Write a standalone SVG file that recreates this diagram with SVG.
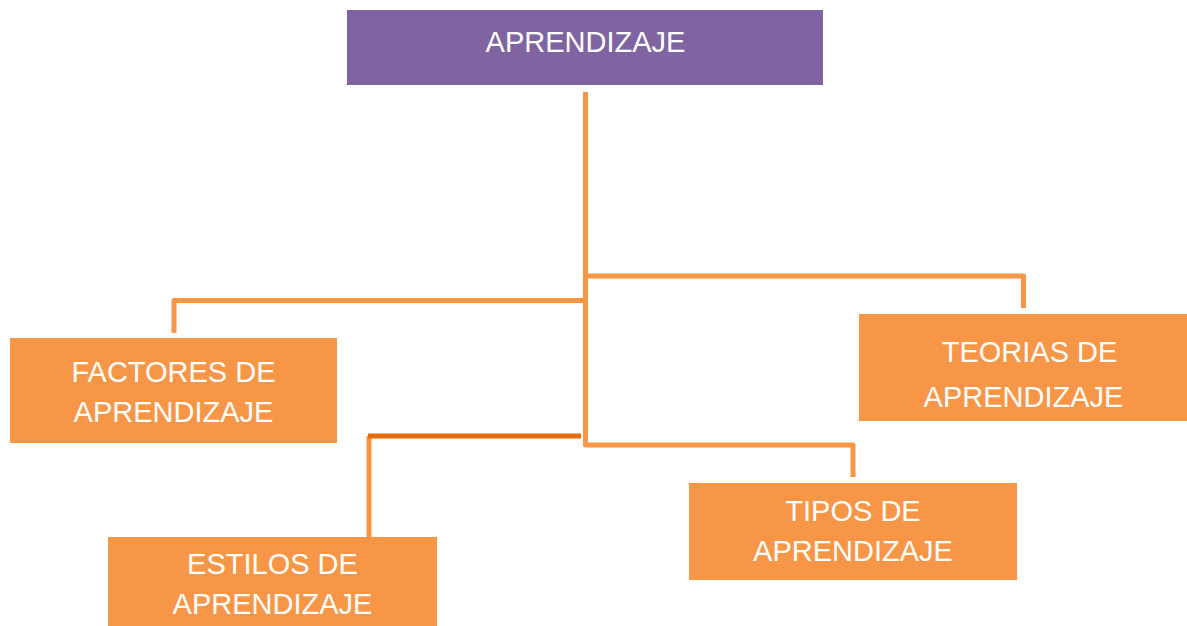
<svg xmlns="http://www.w3.org/2000/svg" width="1187" height="626" viewBox="0 0 1187 626">
  <defs>
    <style>
      .box { fill: #F79646; }
      .top { fill: #8064A2; }
      .lbl { font-family: "Liberation Sans", Arial, sans-serif; font-size: 29px; fill: #FFFFFF; text-anchor: middle; }
      .conn { fill: none; stroke: #F79646; stroke-width: 5; stroke-linejoin: round; }
      .dark { fill: none; stroke: #E46C0A; stroke-width: 5; }
    </style>
    <filter id="sh" x="-50%" y="-10%" width="200%" height="120%">
      <feGaussianBlur stdDeviation="2"/>
    </filter>
  </defs>
  <rect width="1187" height="626" fill="#FFFFFF"/>
  <g id="connectors">
    <polyline class="conn" points="585.5,92 585.5,445 853,445 853,477"/>
    <polyline class="conn" points="585.5,276 1023.5,276 1023.5,308"/>
    <polyline class="conn" points="585.5,300.5 174,300.5 174,333"/>
    <line x1="367" y1="438" x2="367" y2="541" stroke="#999999" stroke-width="4" opacity="0.5" filter="url(#sh)"/>
    <polyline class="conn" points="369,436 369,540"/>
    <line class="dark" x1="368" y1="436" x2="581" y2="436"/>
  </g>
  <g id="node-aprendizaje">
    <rect class="top" x="347" y="10" width="476" height="75"/>
    <text class="lbl" x="585.5" y="52">APRENDIZAJE</text>
  </g>
  <g id="node-factores">
    <rect class="box" x="10" y="338" width="327" height="105"/>
    <text class="lbl" x="173.5" y="382">FACTORES DE</text>
    <text class="lbl" x="173.5" y="422">APRENDIZAJE</text>
  </g>
  <g id="node-teorias">
    <rect class="box" x="859" y="314" width="328" height="107"/>
    <text class="lbl" x="1029.5" y="362">TEORIAS DE</text>
    <text class="lbl" x="1023.5" y="407">APRENDIZAJE</text>
  </g>
  <g id="node-tipos">
    <rect class="box" x="689" y="483" width="328" height="97"/>
    <text class="lbl" x="853" y="521">TIPOS DE</text>
    <text class="lbl" x="853" y="561">APRENDIZAJE</text>
  </g>
  <g id="node-estilos">
    <rect class="box" x="108" y="537" width="329" height="89"/>
    <text class="lbl" x="272.5" y="574">ESTILOS DE</text>
    <text class="lbl" x="272.5" y="614">APRENDIZAJE</text>
  </g>
</svg>
